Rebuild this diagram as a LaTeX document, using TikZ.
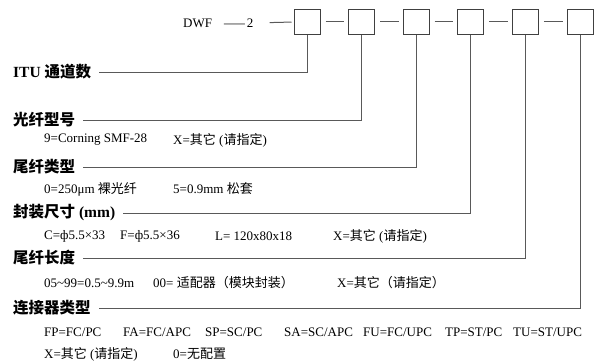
\documentclass[tikz,border=0pt]{standalone}
\usepackage{fontspec}
\setmainfont{Liberation Serif}
\newfontfamily\cjk{Noto Sans CJK SC}
\newcommand{\zh}[1]{{\cjk #1}}
\usetikzlibrary{positioning}
\tikzset{codebox/.style={draw=black!75, line width=1pt, minimum width=26pt,
    minimum height=25pt, inner sep=0pt},
  link/.style={draw=black!65, line width=1pt},
  head/.style={anchor=west, inner sep=0pt, font=\fontsize{15.5}{17}\selectfont\bfseries},
  note/.style={anchor=west, inner sep=0pt, font=\fontsize{13}{15}\selectfont}}

\begin{document}
\begin{tikzpicture}[x=1pt, y=-1pt]
  \useasboundingbox (0,0) rectangle (596,361);

  % code boxes
  \node[codebox] (b1) at (307,22) {};
  \node[codebox, right=27.6pt of b1] (b2) {};
  \node[codebox, right=27.6pt of b2] (b3) {};
  \node[codebox, right=27.6pt of b3] (b4) {};
  \node[codebox, right=27.6pt of b4] (b5) {};
  \node[codebox, right=27.6pt of b5] (b6) {};
  \node[note] (dwf) at (183,23) {DWF\hspace{12pt}\scalebox{1.6}[1]{—}\hspace{2pt}2};

  \draw[link, shorten <=16pt, shorten >=2pt] (dwf.east) -- (b1.west);
  \foreach \i/\j in {1/2,2/3,3/4,4/5,5/6}
    \draw[link, shorten <=5pt, shorten >=4pt] (b\i.east) -- (b\j.west);

  % headings
  \node[head] (itu) at (13,72) {ITU \zh{通道数}};
  \node[head] (fiber) at (13,120) {\zh{光纤型号}};
  \node[head] (pigtail) at (13,167) {\zh{尾纤类型}};
  \node[head] (package) at (13,213) {\zh{封装尺寸} (mm)};
  \node[head] (length) at (13,258) {\zh{尾纤长度}};
  \node[head] (connector) at (13,308) {\zh{连接器类型}};

  \foreach \b/\h in {b1/itu,b2/fiber,b3/pigtail,b4/package,b5/length,b6/connector}
    \draw[link, shorten >=8pt] (\b.south) |- (\h.east);

  % options
  \node[note] (fiber1) at (44,140) {9=Corning SMF-28};
  \node[note] (fiber2) at (173,140) {X=\zh{其它} (\zh{请指定})};
  \node[note] (pig1) at (44,189) {0=250μm \zh{裸光纤}};
  \node[note] (pig2) at (173,189) {5=0.9mm \zh{松套}};
  \node[note] (pkg1) at (44,236) {C=ф5.5×33};
  \node[note] (pkg2) at (120,236) {F=ф5.5×36};
  \node[note] (pkg3) at (215,236) {L= 120x80x18};
  \node[note] (pkg4) at (333,236) {X=\zh{其它} (\zh{请指定})};
  \node[note] (len1) at (44,283) {05\textasciitilde 99=0.5\textasciitilde 9.9m};
  \node[note] (len2) at (153,283) {00= \zh{适配器（模块封装）}};
  \node[note] (len3) at (337,283) {X=\zh{其它（请指定）}};
  \foreach \x/\t [count=\n] in {44/{FP=FC/PC}, 123/{FA=FC/APC}, 205/{SP=SC/PC},
      284/{SA=SC/APC}, 363/{FU=FC/UPC}, 445/{TP=ST/PC}, 513/{TU=ST/UPC}}
    \node[note] (con\n) at (\x,332) {\t};
  \node[note] (con8) at (44,354) {X=\zh{其它} (\zh{请指定})};
  \node[note] (con9) at (173,354) {0=\zh{无配置}};
\end{tikzpicture}
\end{document}
